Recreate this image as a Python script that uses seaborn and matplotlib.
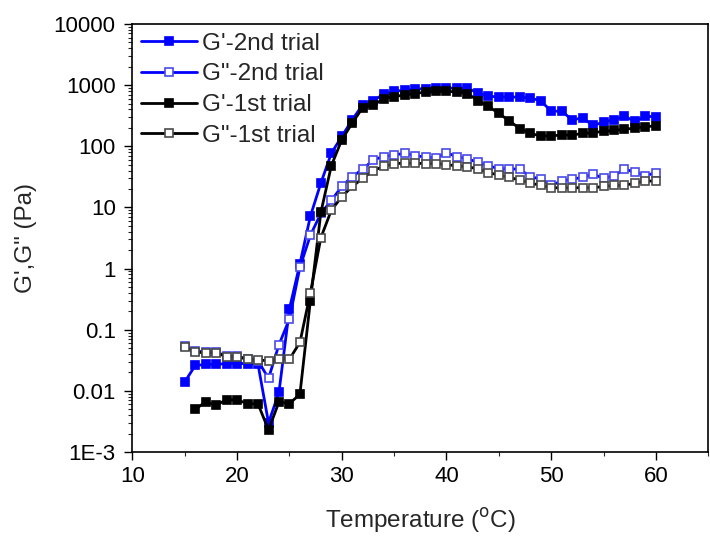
import numpy as np
import pandas as pd
import matplotlib
matplotlib.use("Agg")
import matplotlib.pyplot as plt
import matplotlib.ticker as mticker
import seaborn as sns

temperature = list(range(15, 61))

g1_2nd = [0.014, 0.026, 0.027, 0.027, 0.028, 0.028, 0.028, 0.027, 0.003, 0.0095,
          0.22, 1.2, 7.2, 25, 77, 145, 272, 478, 555, 715, 800, 820, 860, 880, 890,
          895, 895, 890, 745, 660, 640, 640, 635, 615, 555, 375, 375, 272, 290, 219,
          249, 272, 309, 256, 309, 305]

g2_2nd = [0.055, 0.045, 0.043, 0.043, 0.037, 0.037, 0.033, 0.031, 0.016, 0.057,
          0.15, 1.05, 3.5, 8, 13, 22, 32, 42, 60, 68, 72, 77, 70, 67, 64, 78, 68, 62,
          55, 48, 43, 43, 42, 32, 29, 23, 27, 29, 31, 35, 30, 33, 42, 38, 33, 37]

g1_1st = [np.nan, 0.0050, 0.0066, 0.0058, 0.0072, 0.0071, 0.0062, 0.0061, 0.0023,
          0.0066, 0.0062, 0.0088, 0.30, 8.3, 48, 128, 240, 430, 470, 600, 650, 690,
          730, 770, 790, 790, 780, 730, 560, 450, 345, 260, 195, 162, 148, 148, 153,
          153, 162, 168, 175, 182, 190, 198, 210, 215]

g2_1st = [0.052, 0.043, 0.042, 0.042, 0.036, 0.036, 0.033, 0.032, 0.031, 0.033,
          0.033, 0.062, 0.40, 3.2, 9, 15, 22, 30, 40, 47, 52, 53, 53, 52, 52, 50, 48,
          46, 43, 37, 34, 31, 28, 25, 23, 21, 21, 21, 21, 21, 22, 23, 23, 25, 27, 27]

labels = ["G'-2nd trial", 'G"-2nd trial', "G'-1st trial", 'G"-1st trial']
y_ticks = [1e-3, 1e-2, 1e-1, 1, 10, 100, 1000, 10000]
y_tick_labels = ["1E-3", "0.01", "0.1", "1", "10", "100", "1000", "10000"]
x_ticks = [10, 20, 30, 40, 50, 60]

sns.set_style("ticks")
plt.rcParams["font.family"] = ["Liberation Sans", "DejaVu Sans"]

fig = plt.figure(figsize=(7.10, 5.37), dpi=100)
ax = fig.add_axes([0.1865, 0.1583, 0.811, 0.797])

styles = [
    dict(color="#0000ff", mfc="#0000ff", mec="#0000ff"),
    dict(color="#0000ff", mfc="white", mec="#4a4ae8"),
    dict(color="#000000", mfc="#000000", mec="#000000"),
    dict(color="#000000", mfc="white", mec="#4a4a4a"),
]
series = [g1_2nd, g2_2nd, g1_1st, g2_1st]

for vals, lab, st in zip(series, labels, styles):
    df = pd.DataFrame({"T": temperature, "G": vals}).dropna()
    sns.lineplot(data=df, x="T", y="G", ax=ax, color=st["color"], linewidth=2.0,
                 marker="s", markersize=6.2, markerfacecolor=st["mfc"],
                 markeredgecolor=st["mec"], markeredgewidth=1.2, label=lab,
                 estimator=None, sort=False)

ax.set_yscale("log")
ax.set_ylim(1e-3, 1e4)
ax.set_xlim(10, 65)
ax.set_yticks(y_ticks)
ax.set_yticklabels(y_tick_labels)
ax.yaxis.set_minor_locator(mticker.LogLocator(base=10, subs=np.arange(2, 10)))
ax.yaxis.set_minor_formatter(mticker.NullFormatter())
ax.set_xticks(x_ticks)
ax.xaxis.set_minor_locator(mticker.MultipleLocator(5))

ax.tick_params(axis="both", which="major", direction="out", length=6, width=1,
               labelsize=16, colors="black")
ax.tick_params(axis="y", which="major", pad=6)
ax.tick_params(axis="x", which="major", pad=4)
ax.tick_params(axis="both", which="minor", direction="out", length=3, width=0.8)
ax.tick_params(top=False, right=False, which="both")
for sp in ax.spines.values():
    sp.set_visible(True)
    sp.set_linewidth(1.2)
    sp.set_color("black")

ax.set_xlabel("Temperature ($^{\\mathrm{o}}$C)", fontsize=17.5, labelpad=14)
ax.set_ylabel("G',G\" (Pa)", fontsize=17.5, labelpad=12)

leg = ax.legend(loc="upper left", frameon=False, fontsize=17.5, handlelength=2.3,
                handletextpad=0.2, labelspacing=0.36, borderaxespad=0.2,
                borderpad=0.15)

fig.savefig("out.png", dpi=100)
